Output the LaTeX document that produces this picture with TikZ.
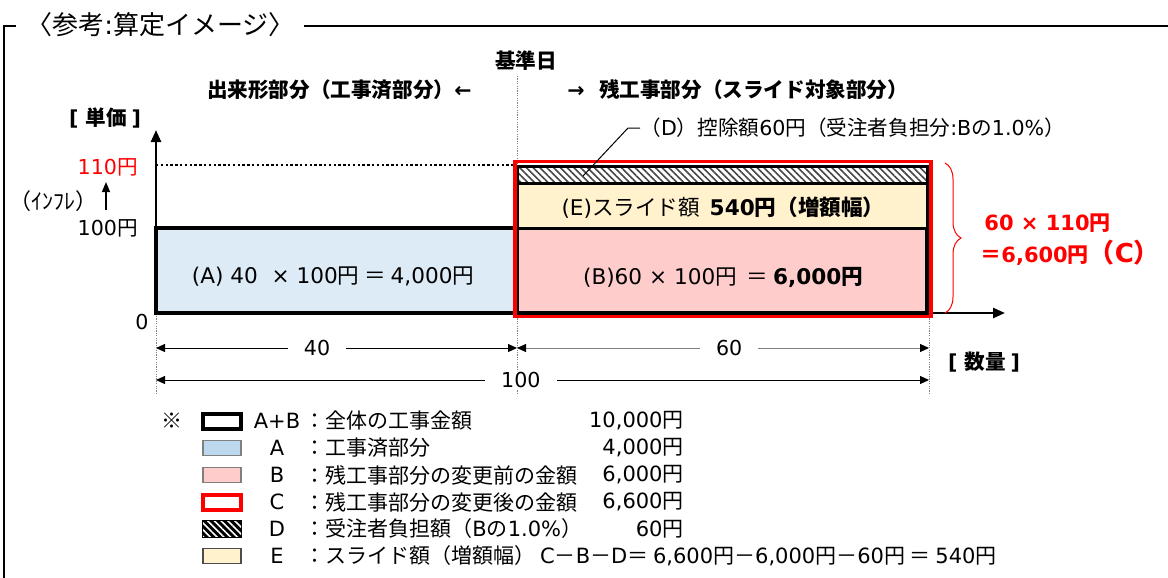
\documentclass[tikz,border=0pt]{standalone}
\usepackage{fontspec}
\setmainfont{DejaVu Sans}
\newfontfamily\jafont{Noto Sans CJK JP}
% Japanese runs switch to the CJK face, Latin runs back to the main face
\newXeTeXintercharclass\jaclass
\makeatletter
\def\ja@range#1#2{\count@=#1\relax
  \loop\XeTeXcharclass\count@=\jaclass\ifnum\count@<#2\advance\count@\@ne\repeat}
\ja@range{"3000}{"30FF}
\ja@range{"4E00}{"9FFF}
\ja@range{"FF00}{"FFEF}
\XeTeXcharclass"203B=\jaclass
\makeatother
\XeTeXinterchartokenstate=1
\XeTeXinterchartoks 0 \jaclass = {\jafont}
\XeTeXinterchartoks 4095 \jaclass = {\jafont}
\XeTeXinterchartoks \jaclass 0 = {\rmfamily}
\XeTeXinterchartoks 4095 0 = {\rmfamily}
\usepackage{tikz}
\usetikzlibrary{arrows.meta, positioning, patterns.meta, decorations.pathreplacing, math}
\definecolor{doneblue}{RGB}{221,235,247}
\definecolor{keyblue}{RGB}{189,215,238}
\definecolor{restpink}{RGB}{255,204,204}
\definecolor{slidecream}{RGB}{255,242,204}
\definecolor{hatchgray}{RGB}{70,70,70}
\tikzset{%
      >={Triangle[width=5pt, length=6pt]}, % filled heads for the axes
      % plain and bold labels
      lbl/.style={inner sep=0pt, font=\fontsize{10.3pt}{12pt}\selectfont},
      blbl/.style={inner sep=0pt, font=\fontsize{10.3pt}{12pt}\selectfont\bfseries},
      boxlbl/.style={inner sep=0pt, font=\fontsize{10.8pt}{12pt}\selectfont},
      keylbl/.style={inner sep=0pt, font=\fontsize{10.5pt}{12pt}\selectfont},
      redlbl/.style={inner sep=0pt, text=red, font=\fontsize{10.5pt}{13pt}\selectfont\bfseries},
      % frame and axes
      framelines/.style={line width=1pt},
      axisline/.style={line width=1.2pt, ->},
      % boxes of the chart
      partbox/.style={draw=black, line width=2.2pt},
      slicebox/.style={draw=black, line width=1.5pt},
      slidebox/.style={draw=red, line width=1.8pt},
      hatch/.style={pattern={Lines[angle=-45, distance=2.4pt, line width=0.8pt]}, pattern color=#1},
      hatch/.default=hatchgray,
      % gray dotted guide lines and dimension arrows
      guide/.style={draw=gray, line width=0.5pt, dash pattern=on 0.6pt off 0.6pt},
      dimline/.style={line width=0.5pt, arrows={Triangle[width=4pt, length=4.5pt, color=black]-Triangle[width=4pt, length=4.5pt, color=black]}},
      dimlabel/.style={lbl, fill=white, inner xsep=8pt, inner ysep=1pt},
      % legend swatches
      keybox/.style={minimum width=19pt, minimum height=7.5pt, inner sep=0pt, line width=0.6pt},
      keytotal/.style={keybox, draw=black, fill=white, line width=2pt},
      keyA/.style={keybox, draw=gray, fill=keyblue},
      keyB/.style={keybox, draw=gray, fill=restpink},
      keyC/.style={keybox, draw=red, fill=white, line width=2pt},
      keyD/.style={keybox, draw=black, fill=black, line width=1.2pt, postaction={hatch=white}},
      keyE/.style={keybox, draw=gray!60!black, fill=slidecream},
}
\begin{document}
\begin{tikzpicture}[x=0.5pt, y=-0.5pt]
  \useasboundingbox (0,0) rectangle (1168,578);
  \tikzmath{\xo = 156; \xb = 517; \xe = 927; \yo = 313; \yp = 228; \yd = 183; \yq = 166;}
  % frame with title
  \node[inner sep=0pt, anchor=west, font=\fontsize{13pt}{15pt}\selectfont] (title) at (26,25) {〈参考:算定イメージ〉};
  \draw[framelines] (16,26) -- (4,26) -- (4,578);
  \draw[framelines] (304,26) -- (1168,26);
  % reference date and the two parts
  \draw[guide] (\xb,76) -- (\xb,393);
  \draw[guide] (\xo,316) -- (\xo,393);
  \draw[guide] (929,316) -- (929,393);
  \node[blbl] (kijun) at (526,61) {基準日};
  \node[blbl, anchor=east] (donepart) at (472,90) {出来形部分（工事済部分）←};
  \node[blbl, anchor=west] (restpart) at (567,90) {→\ \ 残工事部分（スライド対象部分）};
  % axes
  \node[blbl] (unitprice) at (105,118) {[ 単価 ]};
  \node[blbl] (quantity) at (984,362) {[ 数量 ]};
  \coordinate (origin) at (\xo,\yo);
  \draw[axisline] (origin) -- (\xo,130);
  \draw[axisline] (origin) -- (1005,\yo);
  \node[lbl, anchor=east] (zero) at (149,322) {0};
  \node[lbl, anchor=east] (hundred) at (138,228) {100円};
  \node[lbl, anchor=east, text=red] (hundredten) at (138,167) {110円};
  \node[inner sep=0pt, anchor=east, font=\fontsize{11pt}{12pt}\selectfont] (inflation) at (98,201) {（ｲﾝﾌﾚ）};
  \coordinate (inflfoot) at (106,210);
  \coordinate (infltip) at (106,182);
  \draw[line width=0.6pt, -{Triangle[width=4pt, length=5pt]}] (inflfoot) -- (infltip);
  \draw[line width=0.6pt, dash pattern=on 1.2pt off 1.2pt] (\xo,165) -- (\xb,165);
  % boxes: done part, rest part, slide amount, deduction
  \draw[partbox, fill=doneblue] (\xo,\yp) rectangle (\xb,\yo);
  \draw[partbox, fill=restpink] (\xb,\yp) rectangle (\xe,\yo);
  \draw[slicebox, fill=slidecream] (\xb,\yd) rectangle (\xe,\yp);
  \draw[slicebox, hatch] (\xb,\yq) rectangle (\xe,\yd);
  \draw[slidebox] (515,161.5) rectangle (931,316.5);
  \node[boxlbl] (costA) at (333,277) {(A) 40 \ × 100円 ＝ 4,000円};
  \node[boxlbl] (costB) at (723,277) {(B)60 × 100円 \ ＝ \textbf{6,000円}};
  \node[boxlbl] (slideE) at (723,208) {(E)スライド額 \ \textbf{540円（増額幅）}};
  \node[lbl, anchor=west] (deduct) at (640,128) {（D）控除額60円（受注者負担分:Bの1.0\%）};
  \coordinate (hatchpt) at (583,176);
  \draw[line width=0.5pt] (deduct.west) -- ++(-12,0) -- (hatchpt);
  % new total of the rest part
  \draw[red, line width=0.5pt, decorate, decoration={brace, amplitude=8pt}] (945,163) -- (945,313);
  \node[redlbl, anchor=west] (newprod) at (984,223) {60 × 110円};
  \node[redlbl, anchor=west] (newtotal) at (980,253) {＝6,600円{\fontsize{13pt}{14pt}\selectfont （C）}};
  % quantities
  \coordinate (q0) at (\xo,348);
  \coordinate (q1) at (\xb,348);
  \coordinate (q2) at (929,348);
  \coordinate (r0) at (\xo,380);
  \coordinate (r2) at (929,380);
  \draw[dimline] (q0) -- node[dimlabel, pos=0.446] (qdone) {40} (q1);
  \draw[dimline, draw=gray] (q1) -- node[dimlabel, pos=0.515] (qrest) {60} (q2);
  \draw[dimline] (r0) -- node[dimlabel, pos=0.472] (qall) {100} (r2);
  % legend
  \node[keylbl] (kome) at (172,421) {※};
  \foreach \sw/\key/\txt/\amt [count=\i from 0] in {
      keytotal/{A+B}/{：全体の工事金額}/{10,000円},
      keyA/A/{：工事済部分}/{4,000円},
      keyB/B/{：残工事部分の変更前の金額}/{6,000円},
      keyC/C/{：残工事部分の変更後の金額}/{6,600円},
      keyD/D/{：受注者負担額（Bの1.0\%）}/{60円},
      keyE/E/{：スライド額（増額幅） C－B－D＝ 6,600円－6,000円－60円 ＝ 540円}/{}} {
    \node[\sw] (sw\i) at (222,{421+27*\i}) {};
    \node[keylbl] (key\i) at (277,{421+27*\i}) {\key};
    \node[keylbl, anchor=west] (txt\i) at (304,{421+27*\i}) {\txt};
    \node[keylbl, anchor=east] (amt\i) at (684,{421+27*\i}) {\amt};
  }
\end{tikzpicture}
\end{document}
